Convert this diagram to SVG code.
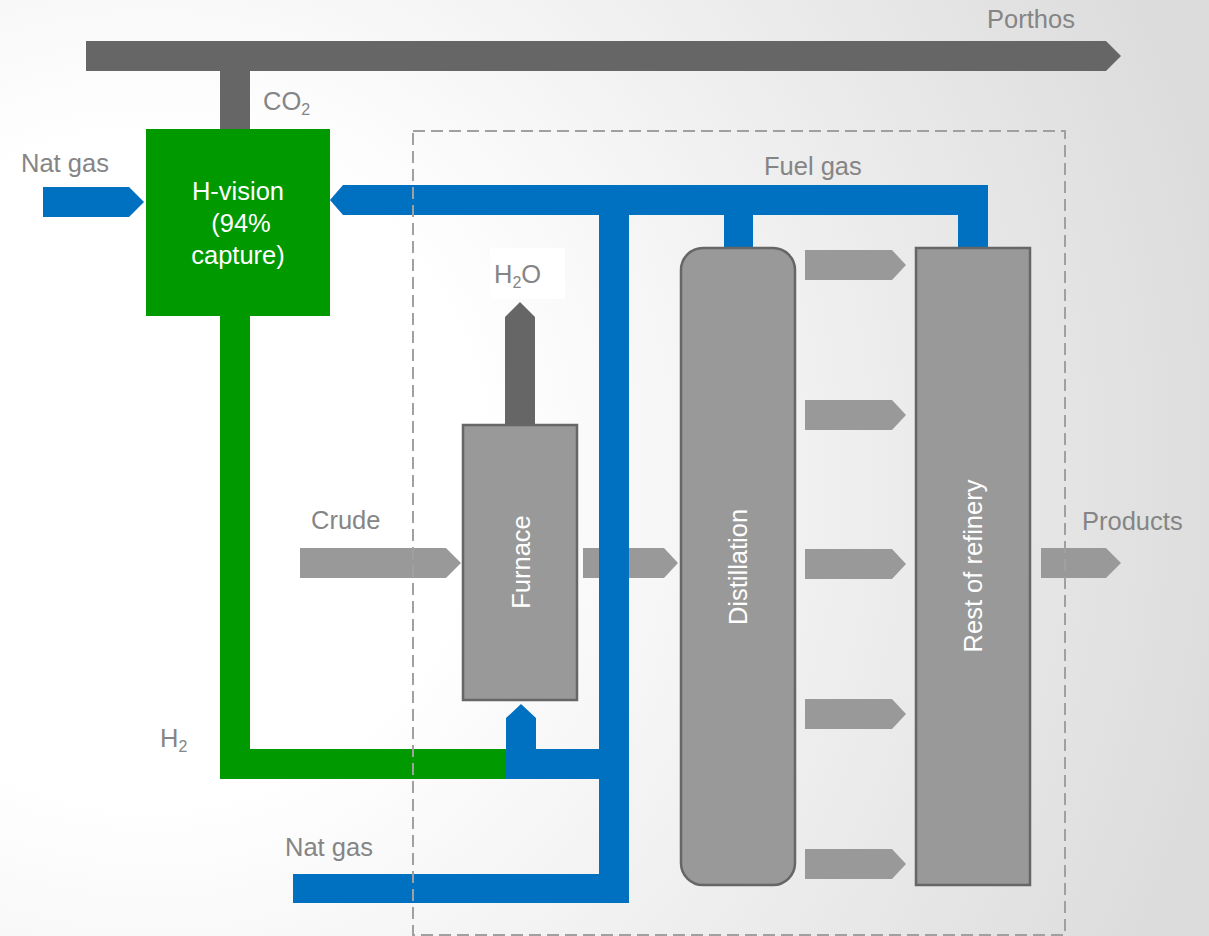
<svg xmlns="http://www.w3.org/2000/svg" width="1209" height="936" viewBox="0 0 1209 936">
  <defs>
    <radialGradient id="bg" gradientUnits="userSpaceOnUse" cx="150" cy="470" r="1100">
      <stop offset="0" stop-color="#ffffff"/>
      <stop offset="0.3" stop-color="#ffffff"/>
      <stop offset="1" stop-color="#dcdcdc"/>
    </radialGradient>
  </defs>
  <style>
    .lbl { font-family: "Liberation Sans", Arial, sans-serif; font-size: 25.5px; fill: #858585; }
    .sub { font-size: 16px; }
    .wt { font-family: "Liberation Sans", Arial, sans-serif; font-size: 25.5px; fill: #ffffff; }
    .blue { fill: #0070c0; }
    .green { fill: #009900; }
    .dark { fill: #666666; }
    .garrow { fill: #999999; }
    .box { fill: #999999; stroke: #666666; stroke-width: 2.5; }
    .dash { fill: none; stroke: #a0a0a0; stroke-width: 2; stroke-dasharray: 12 6; }
  </style>
  <rect x="0" y="0" width="1209" height="936" fill="url(#bg)"/>

  <g id="connectors">
    <!-- Porthos CO2 line -->
    <polygon class="dark" points="86,41 1106,41 1121,56 1106,71 86,71"/>
    <rect class="dark" x="220" y="70" width="30" height="60"/>
    <!-- H2O stack -->
    <polygon class="dark" points="505,425 505,317 520,302 535,317 535,425"/>
    <!-- Nat gas into H-vision -->
    <polygon class="blue" points="43,187 129,187 144,202 129,217 43,217"/>
    <!-- Fuel gas line -->
    <polygon class="blue" points="988,185 988,248 958,248 958,215 753,215 753,248 724,248 724,215 343,215 330,200 343,185"/>
    <!-- Gray arrows -->
    <polygon class="garrow" points="300,548 446,548 461,563 446,578 300,578"/>
    <polygon class="garrow" points="583,548 664,548 678,563 664,578 583,578"/>
    <polygon class="garrow" points="1041,548 1106,548 1121,563 1106,578 1041,578"/>
    <polygon class="garrow" points="805,250 892,250 906,265 892,280 805,280"/>
    <polygon class="garrow" points="805,400 892,400 906,415 892,430 805,430"/>
    <polygon class="garrow" points="805,549 892,549 906,564 892,579 805,579"/>
    <polygon class="garrow" points="805,699 892,699 906,714 892,729 805,729"/>
    <polygon class="garrow" points="805,849 892,849 906,864 892,879 805,879"/>
    <!-- Main blue vertical -->
    <rect class="blue" x="599" y="185" width="30" height="718"/>
    <!-- H2 green line -->
    <rect class="green" x="220" y="310" width="30" height="469"/>
    <rect class="green" x="220" y="749" width="286" height="30"/>
    <!-- Blue to furnace -->
    <polygon class="blue" points="506,779 506,718 521,704 536,718 536,749 629,749 629,779"/>
    <!-- Bottom nat gas -->
    <rect class="blue" x="293" y="874" width="336" height="29"/>
  </g>

  <g id="h-vision">
    <rect class="green" x="146" y="129" width="184" height="187"/>
    <text class="wt" x="238" y="200" text-anchor="middle">H-vision</text>
    <text class="wt" x="241" y="232" text-anchor="middle">(94%</text>
    <text class="wt" x="238" y="264" text-anchor="middle">capture)</text>
  </g>

  <g id="furnace">
    <rect class="box" x="463" y="425" width="114" height="275"/>
    <text class="wt" text-anchor="middle" transform="translate(530,562) rotate(-90)">Furnace</text>
  </g>

  <g id="distillation">
    <rect class="box" x="681" y="248" width="114" height="637" rx="22" ry="22"/>
    <text class="wt" text-anchor="middle" transform="translate(747,567) rotate(-90)">Distillation</text>
  </g>

  <g id="rest-of-refinery">
    <rect class="box" x="916" y="248" width="114" height="637"/>
    <text class="wt" text-anchor="middle" transform="translate(982,566) rotate(-90)">Rest of refinery</text>
  </g>

  <g id="labels">
    <text class="lbl" x="987" y="28">Porthos</text>
    <text class="lbl" x="263" y="110">CO<tspan class="sub" dy="5">2</tspan></text>
    <text class="lbl" x="21" y="172">Nat gas</text>
    <text class="lbl" x="764" y="175">Fuel gas</text>
    <rect x="490" y="248" width="75" height="51" fill="#ffffff"/>
    <text class="lbl" x="494" y="283">H<tspan class="sub" dy="5">2</tspan><tspan dy="-5">O</tspan></text>
    <text class="lbl" x="311" y="529">Crude</text>
    <text class="lbl" x="1082" y="530">Products</text>
    <text class="lbl" x="160" y="747">H<tspan class="sub" dy="5">2</tspan></text>
    <text class="lbl" x="285" y="856">Nat gas</text>
  </g>

  <g id="refinery-boundary">
    <rect class="dash" x="413" y="131" width="652" height="804"/>
  </g>
</svg>
